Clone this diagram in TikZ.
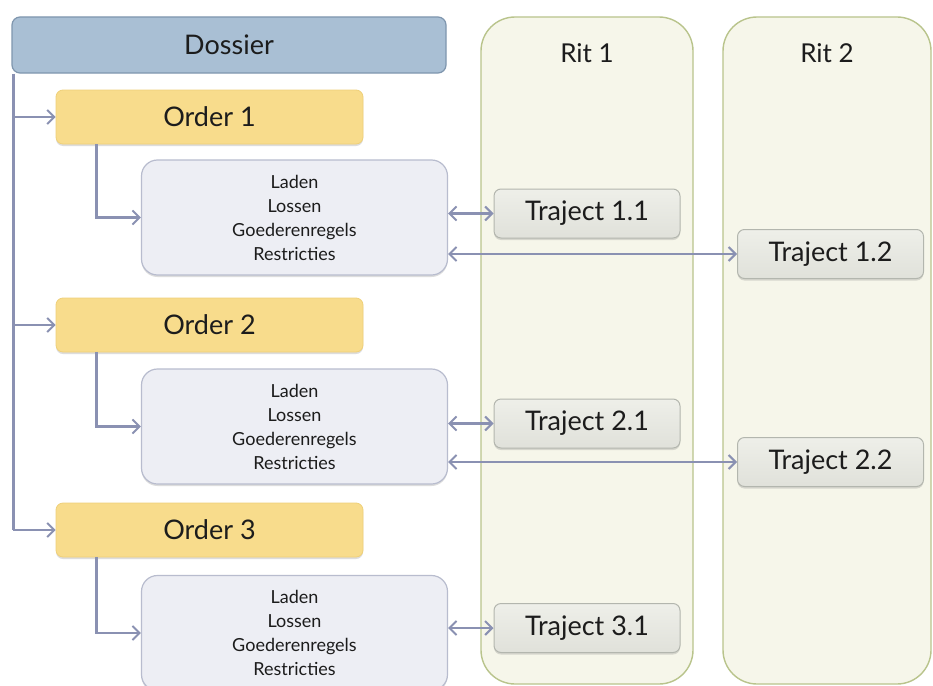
\documentclass[tikz,border=0pt]{standalone}
\usepackage{fontspec}
\setmainfont{Lato}
\usetikzlibrary{arrows.meta,shadows}

\definecolor{dosfill}{HTML}{A9BFD4}
\definecolor{dosline}{HTML}{7F96AE}
\definecolor{ordfill}{HTML}{F8DC8C}
\definecolor{ordline}{HTML}{EFD07A}
\definecolor{detfill}{HTML}{EDEEF4}
\definecolor{detline}{HTML}{B8BCCE}
\definecolor{ritfill}{HTML}{F6F6EA}
\definecolor{ritline}{HTML}{B9C48C}
\definecolor{trtop}{HTML}{EEEFE9}
\definecolor{trbot}{HTML}{E0E1DA}
\definecolor{trline}{HTML}{B3B6AE}
\definecolor{conn}{HTML}{8A91B2}
\definecolor{ink}{HTML}{1C1C1C}

\tikzset{
  softshadow/.style={drop shadow={shadow xshift=0pt, shadow yshift=-2pt, opacity=0.22, fill=black!60}},
  dossierbox/.style={draw=dosline, line width=1.2pt, fill=dosfill, rounded corners=8pt,
    minimum width=434pt, minimum height=56pt, font=\fontsize{27}{31}\selectfont, text=ink},
  orderbox/.style={draw=ordline, line width=0.8pt, fill=ordfill, rounded corners=7pt, softshadow,
    minimum width=307pt, minimum height=54pt, font=\fontsize{27}{31}\selectfont, text=ink},
  detailbox/.style={draw=detline, line width=1.2pt, fill=detfill, rounded corners=16pt, softshadow,
    minimum width=306pt, minimum height=115pt, align=center,
    font=\fontsize{18}{24}\selectfont, text=ink},
  ritcol/.style={draw=ritline, line width=1.4pt, fill=ritfill, rounded corners=34pt},
  trajectbox/.style={draw=trline, line width=1pt, top color=trtop, bottom color=trbot,
    rounded corners=7pt, softshadow, minimum width=186pt, minimum height=49pt,
    font=\fontsize{27}{31}\selectfont, text=ink},
  rittitle/.style={font=\fontsize{26}{30}\selectfont, text=ink},
  link/.style={draw=conn, line width=2.4pt},
  linkarrow/.style={link, -{Straight Barb[length=7pt,width=14pt,line width=2pt]}},
  twoway/.style={link, {Straight Barb[length=7pt,width=14pt,line width=2pt]}-{Straight Barb[length=7pt,width=14pt,line width=2pt]}},
}

\begin{document}
\begin{tikzpicture}[x=1pt,y=-1pt]
  \useasboundingbox (0,0) rectangle (933,685);
  \clip (0,0) rectangle (933,685);
  \fill[white] (0,0) rectangle (933,685);

  % trip columns
  \node[ritcol, minimum width=212pt, minimum height=667pt] (rit1) at (587,350.5) {};
  \node[ritcol, minimum width=208pt, minimum height=667pt] (rit2) at (827,350.5) {};
  \node[rittitle] (rit1t) at (587,53) {Rit 1};
  \node[rittitle] (rit2t) at (827,53) {Rit 2};

  % dossier and orders
  \node[dossierbox] (dos) at (229,45) {Dossier};
  \node[orderbox] (o1) at (209.5,117) {Order 1};
  \node[orderbox] (o2) at (209.5,325) {Order 2};
  \node[orderbox] (o3) at (209.5,530) {Order 3};

  % order details
  \node[detailbox] (d1) at (294.5,217.5) {Laden\\Lossen\\Goederenregels\\Restricties};
  \node[detailbox] (d2) at (294.5,426.5) {Laden\\Lossen\\Goederenregels\\Restricties};
  \node[detailbox] (d3) at (294.5,633) {Laden\\Lossen\\Goederenregels\\Restricties};

  % legs
  \node[trajectbox] (t11) at (587,213.5) {Traject 1.1};
  \node[trajectbox] (t12) at (830.5,254) {Traject 1.2};
  \node[trajectbox] (t21) at (587,423.5) {Traject 2.1};
  \node[trajectbox] (t22) at (830.5,462) {Traject 2.2};
  \node[trajectbox] (t31) at (587,628) {Traject 3.1};

  % dossier -> orders
  \coordinate (spine) at ([xshift=2pt]dos.south west);
  \draw[link] (spine) -- (spine |- o3.west);
  \draw[linkarrow] (spine |- o1.west) -- (o1.west);
  \draw[linkarrow] (spine |- o2.west) -- (o2.west);
  \draw[linkarrow] (spine |- o3.west) -- (o3.west);

  % orders -> details
  \draw[linkarrow] ([xshift=41pt]o1.south west) |- (d1.west);
  \draw[linkarrow] ([xshift=41pt]o2.south west) |- (d2.west);
  \draw[linkarrow] ([xshift=41pt]o3.south west) |- (d3.west);

  % details <-> legs
  \draw[twoway] (t11.west -| d1.east) -- (t11.west);
  \draw[twoway] (t12.west -| d1.east) -- (t12.west);
  \draw[twoway] (t21.west -| d2.east) -- (t21.west);
  \draw[twoway] (t22.west -| d2.east) -- (t22.west);
  \draw[twoway] (t31.west -| d3.east) -- (t31.west);
\end{tikzpicture}
\end{document}
